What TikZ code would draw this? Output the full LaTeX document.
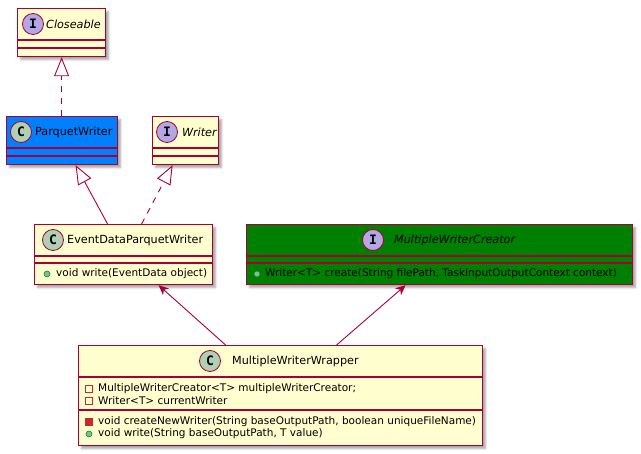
\documentclass[tikz,border=0pt]{standalone}
\usepackage{fontspec}
\setmainfont{DejaVu Sans}
\newfontfamily\iconfont{DejaVu Sans Mono}
\usetikzlibrary{arrows.meta,shadows.blur,positioning}

\definecolor{umlred}{HTML}{A80036}
\definecolor{umlfill}{HTML}{FEFECE}
\definecolor{pwblue}{HTML}{0080FF}
\definecolor{mwcgreen}{HTML}{008000}
\definecolor{cicon}{HTML}{ADD1B2}
\definecolor{iicon}{HTML}{B4A7E5}
\definecolor{pubfill}{HTML}{84BE84}
\definecolor{publine}{HTML}{038048}
\definecolor{privred}{HTML}{C82930}

\begin{document}
\begin{tikzpicture}[x=1pt, y=-1pt,
    cls/.style={draw=umlred, fill=umlfill, line width=1.2pt, inner sep=0pt, anchor=north west,
      blur shadow={shadow xshift=3pt, shadow yshift=-3pt, shadow blur radius=2pt, shadow opacity=35}},
    sep/.style={draw=umlred, line width=1.1pt},
    icon/.style={circle, draw=umlred, line width=0.8pt, minimum size=21pt, inner sep=0pt,
      font=\iconfont\bfseries\fontsize{13}{13}\selectfont},
    title/.style={anchor=west, inner sep=0pt, font=\fontsize{11.2}{13}\selectfont},
    member/.style={anchor=west, inner sep=0pt, font=\fontsize{10.5}{12}\selectfont},
    pub/.style={circle, fill=pubfill, draw=publine, line width=0.6pt, minimum size=6pt, inner sep=0pt},
    privattr/.style={rectangle, draw=privred, line width=0.8pt, minimum size=6.5pt, inner sep=0pt},
    privop/.style={rectangle, fill=privred, draw=privred, line width=0.8pt, minimum size=6.5pt, inner sep=0pt},
    link/.style={draw=umlred, line width=0.9pt},
    realize/.style={link, dash pattern=on 6pt off 6pt, -{Triangle[open, length=19pt, width=15pt]}},
    extend/.style={link, -{Triangle[open, length=19pt, width=15pt]}},
    uses/.style={link, -{Stealth[length=10pt, width=9pt, inset=3pt]}}]
    \useasboundingbox (0,0) rectangle (641,454);

    % Closeable interface
    \node[cls, minimum width=88pt, minimum height=48pt] (cl) at (17,8) {};
    \draw[sep] (17,40) -- (105,40);
    \draw[sep] (17,48) -- (105,48);
    \node[icon, fill=iicon] (clI) at (33,24) {I};
    \node[title] (clN) at (46,24) {\itshape Closeable};

    % ParquetWriter class
    \node[cls, fill=pwblue, minimum width=111pt, minimum height=48pt] (pw) at (6,116) {};
    \draw[sep] (6,148) -- (117,148);
    \draw[sep] (6,156) -- (117,156);
    \node[icon, fill=cicon] (pwC) at (21,132) {C};
    \node[title] (pwN) at (35,132) {ParquetWriter};

    % Writer interface
    \node[cls, minimum width=66pt, minimum height=48pt] (wr) at (152,116) {};
    \draw[sep] (152,148) -- (218,148);
    \draw[sep] (152,156) -- (218,156);
    \node[icon, fill=iicon] (wrI) at (167,132) {I};
    \node[title] (wrN) at (182,132) {\itshape Writer};

    % EventDataParquetWriter class
    \node[cls, minimum width=178pt, minimum height=60pt] (edpw) at (34,224) {};
    \draw[sep] (34,256) -- (212,256);
    \draw[sep] (34,263) -- (212,263);
    \node[icon, fill=cicon] (edpwC) at (53,240) {C};
    \node[title] (edpwN) at (67,240) {EventDataParquetWriter};
    \node[pub] (edpwM) at (47,274) {};
    \node[member] (edpwW) at (56,274) {void write(EventData object)};

    % MultipleWriterCreator interface
    \node[cls, fill=mwcgreen, minimum width=386pt, minimum height=60pt] (mwc) at (246,224) {};
    \draw[sep] (246,256) -- (632,256);
    \draw[sep] (246,263) -- (632,263);
    \node[icon, fill=iicon] (mwcI) at (373,240) {I};
    \node[title] (mwcN) at (394,240) {\itshape MultipleWriterCreator};
    \node[pub] (mwcM) at (257,274) {};
    \node[member] (mwcC) at (265,274) {Writer<T> create(String filePath, TaskInputOutputContext context)};

    % MultipleWriterWrapper class
    \node[cls, minimum width=404pt, minimum height=100pt] (wrap) at (78,345) {};
    \draw[sep] (78,377) -- (482,377);
    \draw[sep] (78,410) -- (482,410);
    \node[icon, fill=cicon] (wrapC) at (210,361) {C};
    \node[title] (wrapN) at (232,361) {MultipleWriterWrapper};
    \node[privattr] (wrapA1) at (89,389) {};
    \node[member] (wrapF1) at (98,389) {MultipleWriterCreator<T> multipleWriterCreator;};
    \node[privattr] (wrapA2) at (89,401) {};
    \node[member] (wrapF2) at (98,401) {Writer<T> currentWriter};
    \node[privop] (wrapO1) at (89,422) {};
    \node[member] (wrapM1) at (98,422) {void createNewWriter(String baseOutputPath, boolean uniqueFileName)};
    \node[pub] (wrapO2) at (89,434) {};
    \node[member] (wrapM2) at (98,434) {void write(String baseOutputPath, T value)};

    % Relations
    \draw[realize] (cl.south |- pw.north) -- (cl.south);
    \draw[extend] ([xshift=-16pt]edpw.north) -- ([xshift=13.5pt]pw.south);
    \draw[realize] ([xshift=18pt]edpw.north) -- ([xshift=-13pt]wr.south);
    \draw[uses] ([xshift=-55pt]wrap.north) -- ([xshift=35pt]edpw.south);
    \draw[uses] ([xshift=56pt]wrap.north) -- ([xshift=-34pt]mwc.south);
\end{tikzpicture}
\end{document}
